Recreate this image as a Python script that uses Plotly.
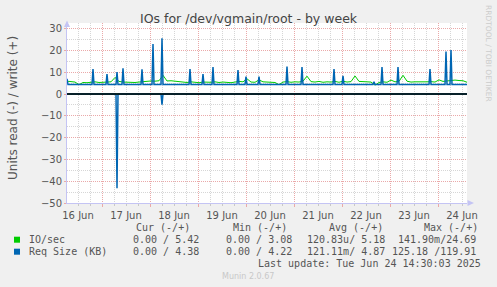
import plotly.graph_objects as go
import pandas as pd

# ---------------- data ----------------
START = pd.Timestamp("2025-06-16 06:30")
END = pd.Timestamp("2025-06-24 14:30")

# IO/sec write (+), sampled every 2 hours from START
io_write_vals = [5.9, 5.8, 5.5, 4.3, 5.3, 5.2, 5.4, 5.6, 5.3, 5.5,
                 5.7, 5.6, 7.6, 5.8, 5.5, 5.4, 5.6, 5.3, 5.5, 5.7,
                 5.8, 6.0, 5.9, 6.1, 8.6, 6.0, 6.1, 5.9, 5.6, 5.4,
                 5.3, 5.6, 5.4, 5.2, 5.5, 5.3, 5.4, 5.6, 5.3, 5.5,
                 5.4, 5.2, 5.5, 5.8, 5.6, 7.0, 5.5, 5.4, 6.5, 5.6,
                 5.5, 5.4, 5.3, 4.3, 5.5, 5.7, 5.4, 5.6, 5.5, 5.9,
                 8.2, 5.7, 5.5, 5.8, 5.4, 5.6, 5.5, 5.8, 5.4, 5.9,
                 5.5, 5.7, 8.3, 5.8, 5.6, 5.7, 5.5, 4.1, 5.3, 5.6,
                 5.4, 6.4, 5.6, 5.8, 8.6, 5.9, 5.5, 5.6, 5.5, 5.4,
                 5.6, 5.7, 5.5, 6.5, 5.8, 6.0, 6.3, 6.4, 6.2, 6.1,
                 5.4]
io_write_times = pd.date_range(START, periods=len(io_write_vals), freq="2h")

# IO/sec read (-)
io_read_hours = [0, 200]
io_read_vals = [0.0, 0.0]

# Req Size (KB) write (+): hours after START and values
req_write_hours = [0, 0.5, 1, 12.5, 13, 13.5, 19.5, 20, 20.5, 24.5, 25, 25.5,
                   27.5, 28, 28.5, 37, 37.5, 38, 42.5, 43, 43.5, 47, 47.5, 48,
                   61, 61.5, 62, 67.5, 68, 68.5, 72.5, 73, 73.5, 85, 85.5, 86,
                   89, 89.5, 90, 95.5, 96, 96.5, 109.5, 110, 110.5, 117, 117.5, 118,
                   133, 133.5, 134, 137.5, 138, 138.5, 153, 153.5, 154,
                   157, 157.5, 158, 165, 165.5, 166, 181, 181.5, 182,
                   189, 189.5, 190, 191.5, 192, 192.5, 200]
req_write_vals = [7.0, 4.4, 4.4, 4.4, 11.5, 4.4, 4.4, 9.2, 4.4, 4.4, 10.1, 4.4,
                  4.4, 11.8, 4.4, 4.4, 11.3, 4.4, 4.4, 23.0, 4.4, 4.4, 25.6, 4.4,
                  4.4, 11.5, 4.4, 4.4, 9.2, 4.4, 4.4, 12.4, 4.4, 4.4, 11.0, 4.4,
                  4.4, 8.0, 4.4, 4.4, 8.0, 4.4, 4.4, 12.6, 4.4, 4.4, 12.4, 4.4,
                  4.4, 11.5, 4.4, 4.4, 8.3, 4.4, 4.4, 5.6, 4.4,
                  4.4, 12.4, 4.4, 4.4, 12.4, 4.4, 4.4, 11.5, 4.4,
                  4.4, 19.5, 4.4, 4.4, 20.2, 4.4, 4.4]

# Req Size (KB) read (-)
req_read_hours = [0, 24.5, 25, 25.5, 47, 47.5, 48, 200]
req_read_vals = [0.0, 0.0, 43.2, 0.0, 0.0, 4.9, 0.0, 0.0]

series_names = ["IO/sec", "Req Size (KB)"]
series_colors = ["#00CC00", "#0066B3"]
cur_vals = ["0.00 / 5.42", "0.00 / 4.38"]
min_vals = ["0.00 / 3.08", "0.00 / 4.22"]
avg_vals = ["120.83u/ 5.18", "121.11m/ 4.87"]
max_vals = ["141.90m/24.69", "125.18 /119.91"]
headers = ["Cur (-/+)", "Min (-/+)", "Avg (-/+)", "Max (-/+)"]
title_text = "IOs for /dev/vgmain/root - by week"
ylabel_text = "Units read (-) / write (+)"
last_update = "Last update: Tue Jun 24 14:30:03 2025"
munin_ver = "Munin 2.0.67"
watermark = "RRDTOOL / TOBI OETIKER"

# ---------------- layout geometry ----------------
W, H = 497, 287
PL, PR, PT, PB = 67, 467, 23, 203


def px(x):
    return (x - PL) / (PR - PL)


def py(y):
    return (PB - y) / (PB - PT)


def hrs(hlist):
    return [START + pd.Timedelta(hours=h) for h in hlist]


fig = go.Figure()
fig.add_trace(go.Scatter(x=hrs(io_read_hours), y=[-v for v in io_read_vals], mode="lines",
                         line=dict(color=series_colors[0], width=1), hoverinfo="skip"))
fig.add_trace(go.Scatter(x=io_write_times, y=io_write_vals, mode="lines",
                         line=dict(color=series_colors[0], width=1), hoverinfo="skip"))
fig.add_trace(go.Scatter(x=hrs(req_read_hours), y=[-v for v in req_read_vals], mode="lines",
                         line=dict(color=series_colors[1], width=1.5), hoverinfo="skip"))
fig.add_trace(go.Scatter(x=hrs(req_write_hours), y=req_write_vals, mode="lines",
                         line=dict(color=series_colors[1], width=1.5), hoverinfo="skip"))

text_col = "#555555"
mono = "DejaVu Sans Mono"
sans = "DejaVu Sans"
ann = []
ann.append(dict(text=title_text, x=px(249), y=py(18.5), xref="paper", yref="paper",
                showarrow=False, font=dict(family=sans, size=12.5, color="#444444"),
                xanchor="center", yanchor="middle"))
ann.append(dict(text=ylabel_text, x=px(13), y=py(108), xref="paper", yref="paper",
                showarrow=False, textangle=-90, font=dict(family=sans, size=12, color=text_col),
                xanchor="center", yanchor="middle"))
ann.append(dict(text=watermark, x=px(488), y=py(53), xref="paper", yref="paper",
                showarrow=False, textangle=90, font=dict(family=sans, size=7.5, color="#cccccc"),
                xanchor="center", yanchor="middle"))

header_x = [134.3, 230.7, 327.3, 422.3]
for hx, ht in zip(header_x, headers):
    ann.append(dict(text=ht, x=px(hx), y=py(227.5), xref="paper", yref="paper", showarrow=False,
                    font=dict(family=mono, size=10, color=text_col), xanchor="left", yanchor="middle"))

row_y = [239.7, 251.7]
for i in range(2):
    ry = row_y[i]
    ann.append(dict(text=series_names[i], x=px(26.7), y=py(ry), xref="paper", yref="paper",
                    showarrow=False, font=dict(family=mono, size=10, color=text_col),
                    xanchor="left", yanchor="middle"))
    for cx, cv in zip([131, 224, 305], [cur_vals[i], min_vals[i], avg_vals[i]]):
        ann.append(dict(text=cv, x=px(cx), y=py(ry), xref="paper", yref="paper", showarrow=False,
                        font=dict(family=mono, size=10, color=text_col), xanchor="left", yanchor="middle"))
    ann.append(dict(text=max_vals[i], x=px(477.5), y=py(ry), xref="paper", yref="paper", showarrow=False,
                    font=dict(family=mono, size=10, color=text_col), xanchor="right", yanchor="middle"))

ann.append(dict(text=last_update, x=px(482.5), y=py(263.5), xref="paper", yref="paper", showarrow=False,
                font=dict(family=mono, size=10, color=text_col), xanchor="right", yanchor="middle"))
ann.append(dict(text=munin_ver, x=px(248), y=py(276), xref="paper", yref="paper", showarrow=False,
                font=dict(family=sans, size=8, color="#c8c8c8"), xanchor="center", yanchor="middle"))

shapes = []
# legend squares
for i in range(2):
    shapes.append(dict(type="rect", xref="paper", yref="paper",
                       x0=px(14), x1=px(20), y0=py(row_y[i] - 3), y1=py(row_y[i] + 3),
                       fillcolor=series_colors[i], line=dict(width=0)))
# zero rule
shapes.append(dict(type="line", xref="paper", yref="y", x0=0, x1=1, y0=0, y1=0,
                   line=dict(color="#000000", width=1.5)))
# axis arrows
arrow_col = "#c4c4f4"
shapes.append(dict(type="path", xref="paper", yref="paper",
                   path=f"M {px(64)},{py(27)} L {px(70)},{py(27)} L {px(67)},{py(20.5)} Z",
                   fillcolor=arrow_col, line=dict(width=0)))
shapes.append(dict(type="path", xref="paper", yref="paper",
                   path=f"M {px(467.5)},{py(200)} L {px(467.5)},{py(206)} L {px(474)},{py(203)} Z",
                   fillcolor=arrow_col, line=dict(width=0)))

major_grid = "#eaa9a9"
minor_grid = "#d6d6d6"
axis_line = "#c4c4f4"

fig.update_layout(
    width=W, height=H,
    paper_bgcolor="#F0F0F0", plot_bgcolor="#FFFFFF",
    margin=dict(l=PL, r=W - PR, t=PT, b=H - PB, pad=0),
    showlegend=False,
    annotations=ann, shapes=shapes,
    xaxis=dict(type="date", range=[START, END], dtick=86400000, tick0="2025-06-16",
               tickformat="%d %b", ticklabelmode="period",
               showgrid=True, gridcolor=major_grid, griddash="1px,1px", gridwidth=1,
               ticks="outside", ticklen=3, tickcolor=major_grid,
               minor=dict(dtick=6 * 3600000, tick0="2025-06-16", showgrid=True,
                          gridcolor=minor_grid, griddash="1px,1px",
                          ticks="outside", ticklen=2, tickcolor="#c8c8c8"),
               showline=True, linecolor=axis_line, linewidth=1, zeroline=False,
               tickfont=dict(family=sans, size=10, color=text_col), fixedrange=True),
    yaxis=dict(range=[-50, 32.6], dtick=10, tick0=0,
               showgrid=True, gridcolor=major_grid, griddash="1px,1px", gridwidth=1,
               ticks="outside", ticklen=2, tickcolor=major_grid,
               minor=dict(dtick=5, tick0=0, showgrid=True, gridcolor=minor_grid, griddash="1px,1px"),
               showline=True, linecolor=axis_line, linewidth=1, zeroline=False,
               tickfont=dict(family=sans, size=10, color=text_col), fixedrange=True),
)

fig.write_html("out.html")
